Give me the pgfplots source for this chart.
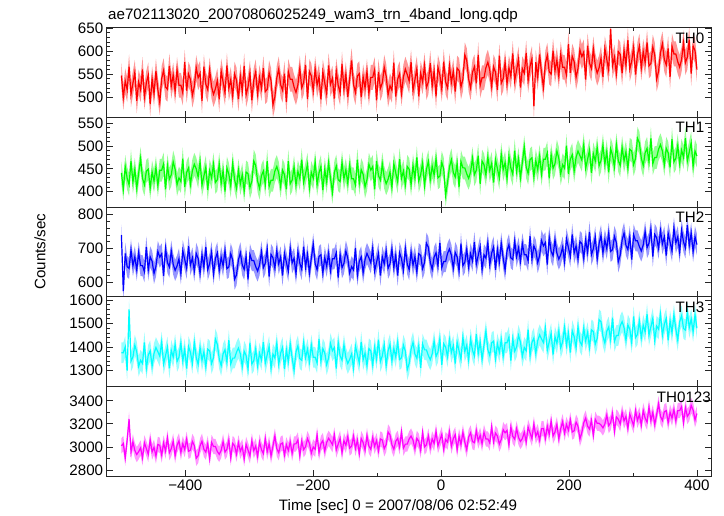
\documentclass[border=0pt]{standalone}
\usepackage{fontspec}
\setmainfont{Liberation Sans}
\usepackage{pgfplots}
\usepackage{pgfplotstable}
\pgfplotsset{compat=1.18}
\definecolor{c0}{RGB}{255,0,0}
\definecolor{c1}{RGB}{0,255,0}
\definecolor{c2}{RGB}{0,0,255}
\definecolor{c3}{RGB}{0,255,255}
\definecolor{c4}{RGB}{255,0,255}
\definecolor{e0}{RGB}{255,150,150}
\definecolor{e1}{RGB}{150,255,150}
\definecolor{e2}{RGB}{150,150,255}
\definecolor{e3}{RGB}{150,255,255}
\definecolor{e4}{RGB}{255,150,255}
\pgfplotstableread{
t a b c d e
-500 547 441 740 1376 3010
-497 499 405 575 1376 3030
-494 535 455 686 1401 2905
-491 516 429 647 1300 3060
-488 566 415 642 1560 3240
-485 506 467 696 1340 2955
-482 530 421 650 1358 3045
-479 554 449 676 1408 2970
-476 492 407 637 1379 2935
-473 533 441 689 1318 2960
-470 516 473 650 1344 2992
-467 560 429 650 1330 2907
-464 500 415 632 1420 3037
-461 531 445 705 1308 2987
-458 548 449 637 1366 2937
-455 485 407 676 1384 3062
-452 540 443 663 1319 2957
-449 507 423 627 1373 2997
-446 557 453 648 1398 2922
-443 516 413 692 1380 3022
-440 488 447 675 1361 3015
-437 541 447 685 1422 2930
-434 558 461 620 1328 3035
-431 522 405 701 1364 2965
-428 517 457 659 1400 3080
-425 568 427 646 1310 2950
-422 524 437 693 1386 2985
-419 548 465 654 1357 3050
-416 512 449 636 1411 2925
-413 560 415 649 1339 3015
-410 526 430 670 1356 3053
-407 526 422 626 1417 2953
-404 509 472 694 1341 3028
-401 576 410 668 1392 2978
-398 514 442 642 1309 3068
-395 550 452 707 1402 2963
-392 538 416 652 1377 2973
-389 504 446 673 1330 3048
-386 523 460 634 1420 3013
-383 564 450 686 1356 2903
-380 542 432 671 1326 2925
-377 552 466 627 1398 3010
-374 492 414 682 1344 3050
-371 566 434 645 1380 2980
-368 528 454 705 1316 2955
-365 516 404 638 1391 3030
-362 559 446 656 1384 2900
-359 523 430 690 1330 3040
-356 506 460 625 1355 3005
-353 518 420 671 1434 3005
-350 536 426 688 1411 2961
-347 495 460 636 1350 2936
-344 557 418 675 1321 2971
-341 533 446 649 1371 3046
-338 509 400 695 1389 2956
-335 569 452 641 1335 2981
-332 519 438 646 1429 3061
-329 538 412 685 1328 2906
-326 502 462 667 1353 3031
-323 550 426 610 1353 3011
-320 537 407 623 1378 2938
-317 496 447 667 1396 3038
-314 546 417 688 1371 2963
-311 513 437 652 1317 3003
-308 568 401 639 1382 2898
-305 505 443 678 1364 3023
-302 522 439 610 1306 2973
-299 553 409 683 1418 2923
-296 493 423 665 1328 3053
-293 537 467 665 1342 2968
-290 555 457 647 1392 3008
-287 507 423 634 1320 2918
-284 543 407 652 1374 3043
-281 519 435 691 1345 2978
-278 563 445 644 1421 2943
-275 512 415 657 1331 3073
-272 517 467 699 1367 2958
-269 553 411 618 1403 3028
-266 536 425 683 1309 2923
-263 483 425 673 1370 3008
-260 501 445 642 1353 3095
-257 542 455 694 1417 2985
-254 561 441 655 1327 2950
-251 527 411 676 1374 3025
-248 515 447 621 1399 3035
-245 551 437 686 1306 2930
-242 489 405 660 1389 3020
-239 556 467 634 1338 2970
-236 539 417 702 1414 3045
-233 539 425 658 1353 2945
-230 522 454 672 1301 3027
-227 510 414 626 1380 3027
-224 527 444 691 1405 3062
-221 563 428 657 1351 2922
-218 520 470 639 1344 3052
-215 532 420 706 1419 2977
-212 570 440 646 1355 3002
-209 496 460 683 1391 3072
-206 556 408 628 1337 3032
-203 546 442 672 1409 2947
-200 514 429 713 1357 3000
-197 562 465 656 1357 2980
-194 526 415 638 1332 3105
-191 545 441 677 1433 2950
-188 495 455 682 1339 3030
-185 555 403 628 1393 3055
-182 531 449 674 1375 2965
-179 507 421 648 1325 3040
-176 569 463 687 1354 3075
-173 528 429 635 1415 3050
-170 541 398 670 1384 3020
-167 497 442 670 1398 3105
-164 557 456 688 1308 2975
-161 526 426 615 1420 3025
-158 509 422 683 1362 3075
-155 572 464 644 1344 2950
-152 517 428 657 1409 3055
-149 550 448 693 1355 3015
-146 500 418 672 1330 3090
-143 541 458 628 1348 2990
-140 580 428 647 1371 3008
-137 527 428 637 1310 3093
-134 510 414 702 1404 2988
-131 546 470 621 1368 3058
-128 551 418 663 1332 2943
-125 500 448 676 1422 3073
-122 544 438 629 1346 3038
-119 520 410 668 1375 2973
-116 556 426 686 1321 3098
-113 508 460 673 1393 3008
-110 543 447 658 1384 2980
-107 543 455 702 1323 3080
-104 560 405 634 1399 3005
-101 493 467 660 1348 3055
-98 555 435 686 1431 2965
-95 519 425 621 1338 3070
-92 531 461 676 1363 3060
-89 565 431 655 1410 2985
-86 546 417 694 1320 3020
-83 505 427 642 1384 3130
-80 525 443 655 1412 3105
-77 515 409 699 1340 3020
-74 575 461 644 1394 2980
-71 501 441 681 1358 3050
-68 539 421 621 1422 3075
-65 551 471 688 1347 3000
-62 508 429 670 1354 3130
-59 544 445 636 1408 2990
-56 561 415 701 1383 3025
-53 549 455 655 1304 3025
-50 535 449 638 1330 3070
-47 576 415 690 1391 3095
-44 514 457 651 1420 3060
-41 538 429 677 1370 2985
-38 562 475 631 1352 3075
-35 502 423 685 1406 3050
-32 552 437 680 1312 2970
-29 533 463 641 1413 3125
-26 569 413 659 1388 3000
-23 521 449 716 1388 3020
-20 533 466 704 1364 3095
-17 574 426 660 1346 2995
-14 524 456 639 1371 3070
-11 557 436 675 1425 3030
-8 502 472 688 1360 3135
-5 565 430 649 1378 3010
-2 548 434 717 1436 3060
1 517 464 644 1324 3110
4 577 450 662 1414 2980
7 533 392 662 1400 3065
10 520 420 686 1359 3042
13 568 454 699 1431 3132
16 532 470 681 1377 3007
19 556 442 642 1406 3072
22 512 432 689 1330 3107
25 563 462 676 1420 2977
28 558 410 634 1384 3092
31 522 466 715 1348 3022
34 539 452 650 1442 3127
37 592 452 660 1381 3042
40 580 439 698 1408 2977
43 539 429 646 1344 3087
46 520 443 685 1434 3122
49 554 473 664 1387 3047
52 566 437 719 1362 3037
55 530 447 654 1455 3142
58 592 479 680 1372 3052
61 525 417 706 1423 3102
64 542 467 638 1347 3027
67 542 459 682 1408 3127
70 564 436 672 1468 3070
73 576 476 718 1389 3070
76 559 446 653 1364 3035
79 523 462 687 1418 3175
82 566 420 705 1425 3045
85 554 470 638 1350 3120
88 516 450 698 1414 3095
91 590 430 661 1378 3025
94 530 482 716 1432 3065
97 540 448 672 1360 3150
100 576 464 637 1418 3123
103 528 428 694 1418 3143
106 564 478 712 1443 3018
109 545 452 673 1342 3173
112 595 438 668 1436 3093
115 535 490 722 1382 3068
118 559 444 676 1400 3158
121 583 472 702 1450 3083
124 521 430 663 1421 3048
127 562 464 715 1360 3073
130 552 498 682 1398 3128
133 596 454 682 1384 3043
136 536 440 664 1474 3173
139 567 470 737 1362 3123
142 584 474 669 1420 3073
145 480 432 708 1438 3198
148 576 468 695 1373 3093
151 543 448 659 1427 3133
154 593 478 680 1452 3058
157 552 438 724 1434 3158
160 521 471 708 1419 3160
163 574 471 718 1480 3075
166 591 485 653 1386 3180
169 555 429 734 1422 3110
172 550 481 692 1458 3225
175 601 451 679 1368 3095
178 557 461 726 1444 3130
181 581 489 687 1415 3195
184 545 473 669 1469 3070
187 593 439 682 1397 3160
190 565 459 705 1423 3220
193 565 451 661 1484 3120
196 548 501 729 1408 3195
199 615 439 703 1459 3145
202 553 471 677 1376 3235
205 589 481 742 1469 3130
208 577 445 687 1444 3140
211 543 475 708 1397 3215
214 562 489 669 1487 3180
217 603 479 721 1423 3070
220 588 469 715 1408 3125
223 598 503 671 1480 3210
226 538 451 726 1426 3250
229 612 471 689 1462 3180
232 574 491 749 1398 3155
235 562 441 682 1473 3230
238 605 483 700 1466 3100
241 569 467 734 1412 3240
244 552 497 669 1437 3205
247 564 457 715 1516 3205
250 585 468 739 1507 3190
253 544 502 687 1446 3165
256 606 460 726 1417 3200
259 582 488 700 1467 3275
262 558 442 746 1485 3185
265 648 494 692 1431 3210
268 568 480 697 1525 3290
271 587 454 736 1424 3135
274 551 504 718 1449 3260
277 599 468 661 1449 3240
280 593 457 681 1490 3200
283 552 497 725 1508 3300
286 602 467 746 1483 3225
289 569 487 710 1429 3265
292 624 451 697 1494 3160
295 561 493 736 1476 3285
298 578 489 668 1418 3235
301 609 459 741 1530 3185
304 549 473 723 1440 3315
307 593 517 723 1454 3230
310 611 507 706 1511 3280
313 563 473 693 1439 3190
316 599 457 711 1493 3315
319 575 485 750 1464 3250
322 619 495 703 1540 3215
325 568 465 716 1450 3345
328 573 517 758 1486 3230
331 609 461 677 1522 3300
334 592 475 742 1428 3195
337 539 475 732 1489 3280
340 556 493 701 1476 3375
343 597 503 753 1540 3265
346 616 489 714 1450 3230
349 582 459 735 1497 3305
352 570 495 680 1522 3315
355 606 485 745 1429 3210
358 544 453 719 1512 3300
361 611 515 693 1461 3250
364 594 465 761 1537 3325
367 594 473 717 1476 3225
370 577 501 735 1429 3315
373 565 461 689 1508 3315
376 582 491 754 1533 3350
379 618 475 720 1479 3210
382 575 517 702 1472 3340
385 587 467 769 1547 3265
388 625 487 709 1483 3290
391 551 507 746 1519 3360
394 611 455 691 1465 3320
397 601 489 735 1537 3235
400 560 478 712 1480 3290
}\lc
\pgfplotsset{
  panel/.style={
    scale only axis, width=604.3bp, height=89.66bp,
    anchor=north west,
    xmin=-523, xmax=422,
    xtick={-400,-200,0,200,400}, minor x tick num=1,
    xticklabels={},
    minor y tick num=4,
    yticklabel pos=left,
    scaled y ticks=false,
    axis on top,
    axis line style={line width=1bp, black!85},
    every tick/.style={black!85, line width=0.8bp},
    major tick length=6bp, minor tick length=3.5bp,
    tick label style={font=\fontsize{15.2}{18}\selectfont},
    /pgf/number format/assume math mode=true,
    /pgf/number format/1000 sep={},
  },
  band/.style={scale only axis, width=604.3bp, height=89.66bp,
    anchor=north west, xmin=-523, xmax=422, hide axis, stack plots=y},
  dline/.style={line width=1.2bp, mark=none, #1},
}
\begin{document}
\begin{tikzpicture}
\path[use as bounding box] (-106.7bp,27.7bp) rectangle (617.3bp,-488.3bp);
% TH0
\begin{axis}[band, at={(0bp,0bp)}, ymin=456, ymax=651]
\addplot[draw=none, mark=none] table[x=t, y expr=\thisrow{a}-27]{\lc};
\addplot[fill=e0, draw=none, mark=none] table[x=t, y expr=54]{\lc} \closedcycle;
\end{axis}
\begin{axis}[panel, at={(0bp,0bp)}, ymin=456, ymax=651, ytick={500,550,600,650}]
\addplot[dline=c0] table[x=t,y=a]{\lc};
\end{axis}
% TH1
\begin{axis}[band, at={(0bp,-89.66bp)}, ymin=366, ymax=563]
\addplot[draw=none, mark=none] table[x=t, y expr=\thisrow{b}-25]{\lc};
\addplot[fill=e1, draw=none, mark=none] table[x=t, y expr=50]{\lc} \closedcycle;
\end{axis}
\begin{axis}[panel, at={(0bp,-89.66bp)}, ymin=366, ymax=563, ytick={400,450,500,550}]
\addplot[dline=c1] table[x=t,y=b]{\lc};
\end{axis}
% TH2
\begin{axis}[band, at={(0bp,-179.32bp)}, ymin=558.6, ymax=822.6]
\addplot[draw=none, mark=none] table[x=t, y expr=\thisrow{c}-31]{\lc};
\addplot[fill=e2, draw=none, mark=none] table[x=t, y expr=62]{\lc} \closedcycle;
\end{axis}
\begin{axis}[panel, at={(0bp,-179.32bp)}, ymin=558.6, ymax=822.6, ytick={600,700,800}]
\addplot[dline=c2] table[x=t,y=c]{\lc};
\end{axis}
% TH3
\begin{axis}[band, at={(0bp,-268.98bp)}, ymin=1233, ymax=1614]
\addplot[draw=none, mark=none] table[x=t, y expr=\thisrow{d}-44]{\lc};
\addplot[fill=e3, draw=none, mark=none] table[x=t, y expr=88]{\lc} \closedcycle;
\end{axis}
\begin{axis}[panel, at={(0bp,-268.98bp)}, ymin=1233, ymax=1614, ytick={1300,1400,1500,1600}]
\addplot[dline=c3] table[x=t,y=d]{\lc};
\end{axis}
% TH0123
\begin{axis}[band, at={(0bp,-358.64bp)}, ymin=2749, ymax=3525]
\addplot[draw=none, mark=none] table[x=t, y expr=\thisrow{e}-66]{\lc};
\addplot[fill=e4, draw=none, mark=none] table[x=t, y expr=132]{\lc} \closedcycle;
\end{axis}
\begin{axis}[panel, at={(0bp,-358.64bp)}, ymin=2749, ymax=3525, ytick={2800,3000,3200,3400}, minor y tick num=1,
  xticklabels={−400,−200,0,200,400}]
\addplot[dline=c4] table[x=t,y=e]{\lc};
\end{axis}
\begin{scope}[every node/.style={font=\fontsize{15.2}{18}\selectfont, inner sep=0pt}]
\node[anchor=base west] at (1.3bp,8bp) {ae702113020\_20070806025249\_wam3\_trn\_4band\_long.qdp};
\node[rotate=90] at (-66.7bp,-224.15bp) {Counts/sec};
\node at (291.3bp,-479.3bp) {Time [sec] 0 = 2007/08/06 02:52:49};
\node[anchor=north west] at (568.8bp,-4.6bp) {TH0};
\node[anchor=north west] at (568.8bp,-94.26bp) {TH1};
\node[anchor=north west] at (568.8bp,-183.92bp) {TH2};
\node[anchor=north west] at (568.8bp,-273.58bp) {TH3};
\node[anchor=north west] at (550bp,-363.64bp) {TH0123};
\end{scope}
\end{tikzpicture}
\end{document}
